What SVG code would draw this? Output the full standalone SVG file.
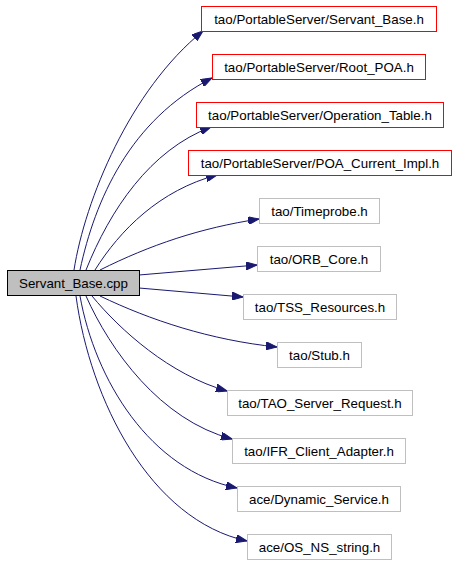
<svg xmlns="http://www.w3.org/2000/svg" width="456" height="563" viewBox="0 0 456 563">
<defs>
<style>
text{font-family:"Liberation Sans",Arial,sans-serif;font-size:13.33px;fill:#000;text-anchor:middle}
.src{fill:#bfbfbf;stroke:#000;stroke-width:1}
.red{fill:#fff;stroke:#ff0000;stroke-width:1}
.gray{fill:#fff;stroke:#bfbfbf;stroke-width:1}
.e{fill:none;stroke:#191970;stroke-width:1;marker-end:url(#ah)}
</style>
<marker id="ah" markerWidth="11" markerHeight="8" refX="11" refY="4" orient="auto" markerUnits="userSpaceOnUse">
<polygon points="0,0 11,4 0,8" fill="#191970" stroke="#191970"/>
</marker>
</defs>
<rect width="456" height="563" fill="#fff"/>
<g id="edges">
<path class="e" d="M74,270 C85,200 130,90 203,31"/>
<path class="e" d="M80,270 C95,200 130,120 212,78"/>
<path class="e" d="M86,270 C110,210 150,150 211,127"/>
<path class="e" d="M95,270 C120,230 160,190 217,175"/>
<path class="e" d="M100,270 C150,245 200,228 259,219"/>
<path class="e" d="M139,275 L257,265"/>
<path class="e" d="M139,288 L243,297"/>
<path class="e" d="M100,296 C150,320 210,340 277,347"/>
<path class="e" d="M92,296 C120,330 170,375 227,391"/>
<path class="e" d="M86,296 C110,350 160,420 232,439"/>
<path class="e" d="M80,296 C95,380 150,470 237,488"/>
<path class="e" d="M76,296 C90,400 150,520 247,541"/>
</g>
<g id="n0"><rect class="src" x="7.5" y="270.5" width="132" height="25"/><text x="73.5" y="288">Servant_Base.cpp</text></g>
<g id="n1"><rect class="red" x="201.5" y="6.5" width="235" height="25"/><text x="319" y="24">tao/PortableServer/Servant_Base.h</text></g>
<g id="n2"><rect class="red" x="212.5" y="54.5" width="213" height="25"/><text x="319" y="72">tao/PortableServer/Root_POA.h</text></g>
<g id="n3"><rect class="red" x="196.5" y="102.5" width="247" height="25"/><text x="320" y="120">tao/PortableServer/Operation_Table.h</text></g>
<g id="n4"><rect class="red" x="188.5" y="150.5" width="263" height="25"/><text x="320" y="168">tao/PortableServer/POA_Current_Impl.h</text></g>
<g id="n5"><rect class="gray" x="259.5" y="198.5" width="120" height="25"/><text x="319.5" y="216">tao/Timeprobe.h</text></g>
<g id="n6"><rect class="gray" x="257.5" y="246.5" width="123" height="25"/><text x="319" y="264">tao/ORB_Core.h</text></g>
<g id="n7"><rect class="gray" x="243.5" y="294.5" width="153" height="25"/><text x="320" y="312">tao/TSS_Resources.h</text></g>
<g id="n8"><rect class="gray" x="277.5" y="342.5" width="84" height="25"/><text x="319.5" y="360">tao/Stub.h</text></g>
<g id="n9"><rect class="gray" x="227.5" y="390.5" width="185" height="25"/><text x="320" y="408">tao/TAO_Server_Request.h</text></g>
<g id="n10"><rect class="gray" x="232.5" y="438.5" width="173" height="25"/><text x="319" y="456">tao/IFR_Client_Adapter.h</text></g>
<g id="n11"><rect class="gray" x="237.5" y="486.5" width="163" height="25"/><text x="319" y="504">ace/Dynamic_Service.h</text></g>
<g id="n12"><rect class="gray" x="247.5" y="534.5" width="144" height="25"/><text x="319.5" y="552">ace/OS_NS_string.h</text></g>
</svg>
